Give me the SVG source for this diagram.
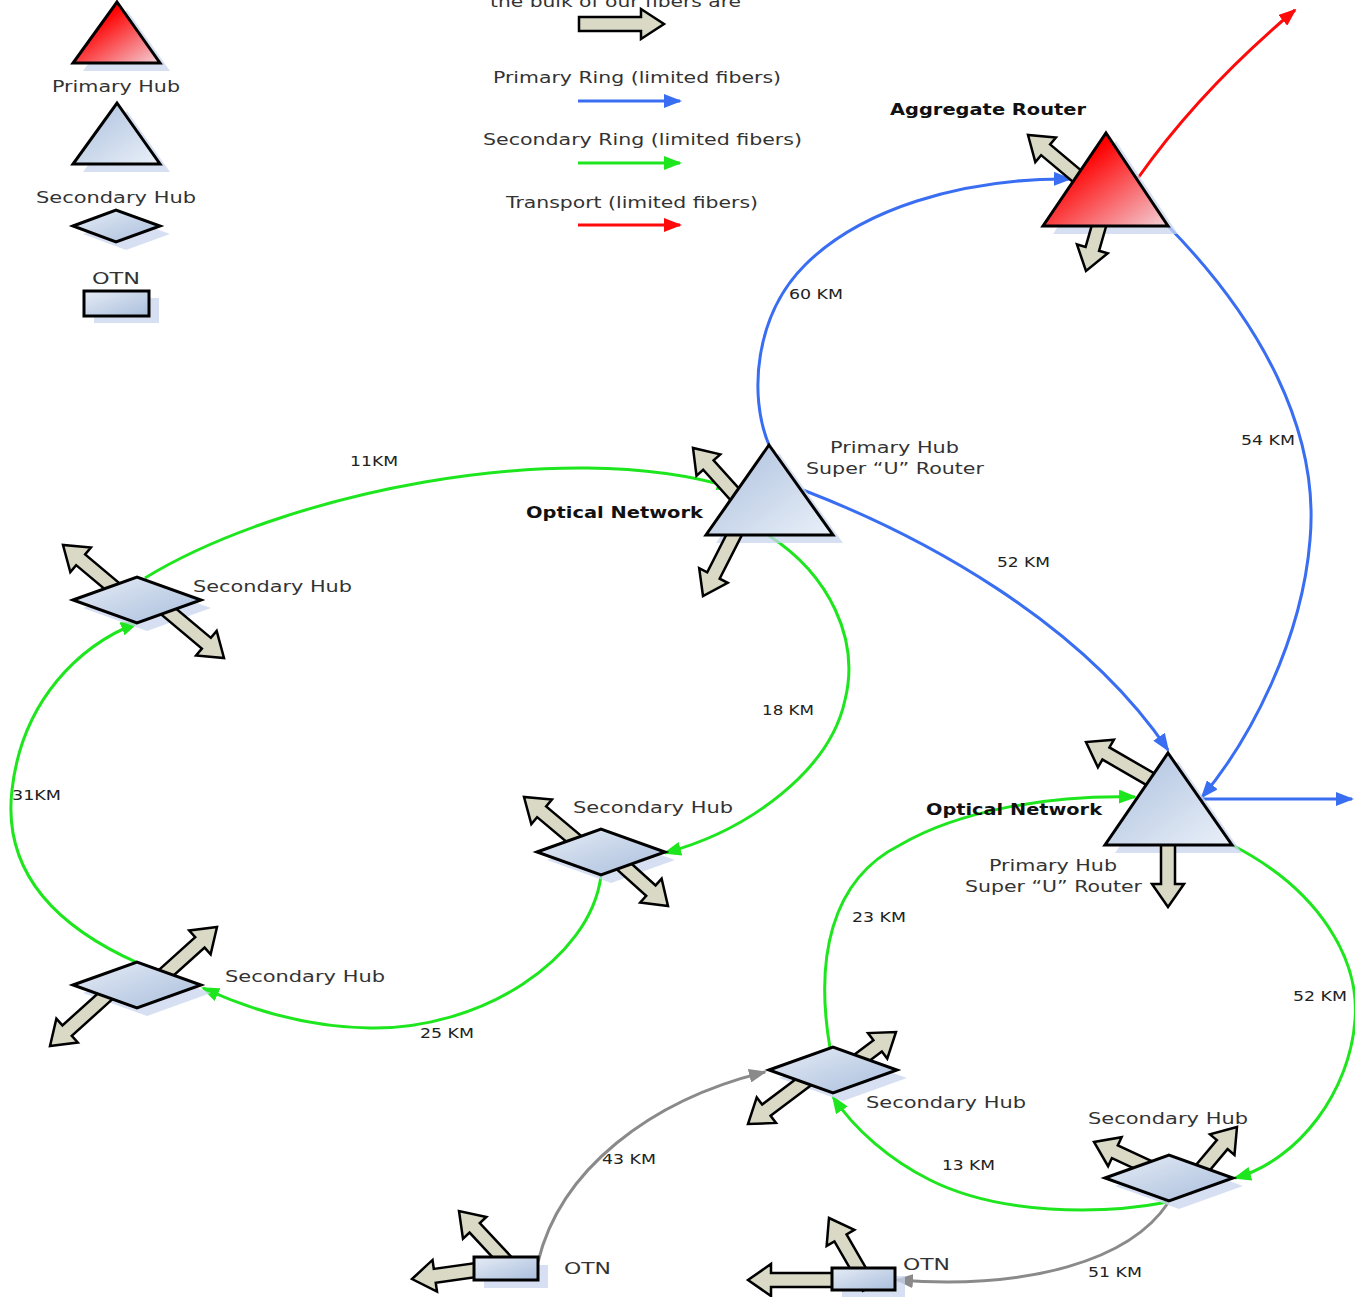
<svg xmlns="http://www.w3.org/2000/svg" xmlns:xlink="http://www.w3.org/1999/xlink" width="1355" height="1297" viewBox="0 0 1355 1297">
<defs>
<style>
.t{font-family:"DejaVu Sans","Liberation Sans",Arial,sans-serif;font-size:16px;fill:#333}
.b{font-family:"DejaVu Sans","Liberation Sans",Arial,sans-serif;font-size:15px;font-weight:bold;fill:#111}
.k{font-family:"DejaVu Sans","Liberation Sans",Arial,sans-serif;font-size:14px;fill:#222}
.shape{stroke:#000;stroke-width:3;stroke-linejoin:miter}
.tri{fill:url(#gBlue)}
.red{fill:url(#gRed)}
.dia{fill:url(#gDia)}
.sh{fill:#c9d6ee;opacity:0.75}
.blk{fill:#d9d9c6;stroke:#000;stroke-width:2.5;stroke-linejoin:miter}
.c{fill:none;stroke-width:3}
.cb{stroke:#3a6ef2;marker-end:url(#mB)}
.cg{stroke:#1ee61e;marker-end:url(#mG)}
.cy{stroke:#8a8a8a;marker-end:url(#mY)}
.cr{stroke:#ff0a0a;marker-end:url(#mR)}
</style>
<linearGradient id="gBlue" x1="0" y1="0" x2="1" y2="1"><stop offset="0" stop-color="#a9bedc"/><stop offset="1" stop-color="#eaf0f9"/></linearGradient>
<linearGradient id="gRed" x1="0" y1="0" x2="1" y2="1"><stop offset="0.3" stop-color="#ff0000"/><stop offset="1" stop-color="#f2d3da"/></linearGradient>
<linearGradient id="gDia" x1="0" y1="0" x2="1" y2="1"><stop offset="0" stop-color="#e6ecf6"/><stop offset="1" stop-color="#a9bedc"/></linearGradient>
<marker id="mB" markerUnits="userSpaceOnUse" markerWidth="18" markerHeight="14" refX="16" refY="7" orient="auto"><path d="M0,0 L18,7 L0,14 Z" fill="#3a6ef2"/></marker>
<marker id="mG" markerUnits="userSpaceOnUse" markerWidth="18" markerHeight="14" refX="16" refY="7" orient="auto"><path d="M0,0 L18,7 L0,14 Z" fill="#1ee61e"/></marker>
<marker id="mY" markerUnits="userSpaceOnUse" markerWidth="18" markerHeight="14" refX="16" refY="7" orient="auto"><path d="M0,0 L18,7 L0,14 Z" fill="#8a8a8a"/></marker>
<marker id="mR" markerUnits="userSpaceOnUse" markerWidth="18" markerHeight="14" refX="16" refY="7" orient="auto"><path d="M0,0 L18,7 L0,14 Z" fill="#ff0a0a"/></marker>
<path id="ba" class="blk" d="M-80,-7 L-23,-7 L-23,-16 L0,0 L-23,16 L-23,7 L-80,7 Z"/>
<path id="bal" class="blk" d="M-100,-7 L-23,-7 L-23,-16 L0,0 L-23,16 L-23,7 L-100,7 Z"/>
</defs>
<rect width="1355" height="1297" fill="#fff"/>

<g id="legend">
<polygon class="sh" points="127,10 170,71 83,71"/>
<polygon class="shape red" points="117,2 160,63 73,63"/>
<text class="t" x="52" y="92" textLength="128" lengthAdjust="spacingAndGlyphs">Primary Hub</text>
<polygon class="sh" points="127,111 170,172 83,172"/>
<polygon class="shape tri" points="117,103 160,164 73,164"/>
<text class="t" x="36" y="203" textLength="160" lengthAdjust="spacingAndGlyphs">Secondary Hub</text>
<polygon class="sh" points="83,234 126,218 170,234 126,250"/>
<polygon class="shape dia" points="73,226 116,210 160,226 116,242"/>
<text class="t" x="92" y="284" textLength="48" lengthAdjust="spacingAndGlyphs">OTN</text>
<rect class="sh" x="94" y="298" width="65" height="25"/>
<rect class="shape dia" x="84" y="291" width="65" height="25"/>
<text class="t" x="490" y="7" textLength="251" lengthAdjust="spacingAndGlyphs">the bulk of our fibers are</text>
<path class="blk" d="M579,17 L641,17 L641,9 L664,24 L641,39 L641,31 L579,31 Z"/>
<text class="t" x="493" y="83" textLength="288" lengthAdjust="spacingAndGlyphs">Primary Ring (limited fibers)</text>
<path class="c cb" d="M578,101 L680,101"/>
<text class="t" x="483" y="145" textLength="319" lengthAdjust="spacingAndGlyphs">Secondary Ring (limited fibers)</text>
<path class="c cg" d="M578,163 L680,163"/>
<text class="t" x="506" y="208" textLength="252" lengthAdjust="spacingAndGlyphs">Transport (limited fibers)</text>
<path class="c cr" d="M578,225 L680,225"/>
</g>

<g id="connectors">
<path class="c cb" d="M769,445 C748,395 755,315 805,265 C860,210 960,178 1070,179"/>
<path class="c cb" d="M1168,226 C1260,320 1320,430 1310,540 C1302,640 1250,740 1202,797"/>
<path class="c cb" d="M803,490 C920,535 1080,620 1168,750"/>
<path class="c cb" d="M1202,799 L1352,799"/>
<path class="c cg" d="M145,578 C280,495 560,435 733,488"/>
<path class="c cg" d="M768,535 C830,575 860,640 845,700 C830,770 750,830 665,853"/>
<path class="c cg" d="M601,876 C590,960 480,1030 370,1028 C300,1027 240,1005 203,988"/>
<path class="c cg" d="M138,963 C30,915 5,850 12,790 C22,700 80,645 137,623"/>
<path class="c cg" d="M830,1048 C815,960 830,880 900,845 C960,810 1050,795 1135,797"/>
<path class="c cg" d="M1232,845 C1320,890 1360,960 1355,1020 C1350,1090 1300,1160 1235,1178"/>
<path class="c cg" d="M1168,1202 C1100,1215 1000,1215 930,1180 C890,1160 855,1130 833,1097"/>
<path class="c cy" d="M538,1262 C560,1170 650,1100 765,1072"/>
<path class="c cy" d="M1168,1203 C1130,1260 1030,1290 897,1280"/>
<path class="c cr" d="M1138,178 Q1200,90 1295,10"/>
<text class="k" x="789" y="299" textLength="54" lengthAdjust="spacingAndGlyphs">60 KM</text>
<text class="k" x="1241" y="445" textLength="54" lengthAdjust="spacingAndGlyphs">54 KM</text>
<text class="k" x="997" y="567" textLength="53" lengthAdjust="spacingAndGlyphs">52 KM</text>
<text class="k" x="350" y="466" textLength="48" lengthAdjust="spacingAndGlyphs">11KM</text>
<text class="k" x="762" y="715" textLength="52" lengthAdjust="spacingAndGlyphs">18 KM</text>
<text class="k" x="420" y="1038" textLength="54" lengthAdjust="spacingAndGlyphs">25 KM</text>
<text class="k" x="12" y="800" textLength="49" lengthAdjust="spacingAndGlyphs">31KM</text>
<text class="k" x="852" y="922" textLength="54" lengthAdjust="spacingAndGlyphs">23 KM</text>
<text class="k" x="1293" y="1001" textLength="54" lengthAdjust="spacingAndGlyphs">52 KM</text>
<text class="k" x="942" y="1170" textLength="53" lengthAdjust="spacingAndGlyphs">13 KM</text>
<text class="k" x="602" y="1164" textLength="54" lengthAdjust="spacingAndGlyphs">43 KM</text>
<text class="k" x="1088" y="1277" textLength="54" lengthAdjust="spacingAndGlyphs">51 KM</text>
</g>

<g id="aggregate-router">
<polygon class="sh" points="1116,141 1178,234 1053,234"/>
<use href="#ba" transform="translate(1028,135) rotate(220)"/>
<use href="#ba" transform="translate(1086,271) rotate(106)"/>
<polygon class="shape red" points="1106,133 1168,226 1043,226"/>
<text class="b" x="890" y="115" textLength="196" lengthAdjust="spacingAndGlyphs">Aggregate Router</text>
</g>

<g id="primary-hub-1">
<polygon class="sh" points="779,453 843,543 716,543"/>
<use href="#ba" transform="translate(693,448) rotate(228)"/>
<use href="#ba" transform="translate(703,596) rotate(117)"/>
<polygon class="shape tri" points="769,445 833,535 706,535"/>
<text class="t" x="830" y="453" textLength="129" lengthAdjust="spacingAndGlyphs">Primary Hub</text>
<text class="t" x="806" y="474" textLength="178" lengthAdjust="spacingAndGlyphs">Super “U” Router</text>
<text class="b" x="526" y="518" textLength="177" lengthAdjust="spacingAndGlyphs">Optical Network</text>
</g>

<g id="primary-hub-2">
<polygon class="sh" points="1178,761 1242,853 1115,853"/>
<use href="#ba" transform="translate(1086,742) rotate(210)"/>
<use href="#ba" transform="translate(1168,907) rotate(90)"/>
<polygon class="shape tri" points="1168,753 1232,845 1105,845"/>
<text class="b" x="926" y="815" textLength="176" lengthAdjust="spacingAndGlyphs">Optical Network</text>
<text class="t" x="989" y="871" textLength="128" lengthAdjust="spacingAndGlyphs">Primary Hub</text>
<text class="t" x="965" y="892" textLength="177" lengthAdjust="spacingAndGlyphs">Super “U” Router</text>
</g>

<g id="secondary-hub-1">
<polygon class="sh" points="83,608 147,585 211,608 147,631"/>
<use href="#ba" transform="translate(63,545) rotate(220)"/>
<use href="#ba" transform="translate(224,658) rotate(40)"/>
<polygon class="shape dia" points="73,600 137,577 201,600 137,623"/>
<text class="t" x="193" y="592" textLength="159" lengthAdjust="spacingAndGlyphs">Secondary Hub</text>
</g>

<g id="secondary-hub-2">
<polygon class="sh" points="547,860 611,837 675,860 611,883"/>
<use href="#ba" transform="translate(524,797) rotate(220)"/>
<use href="#ba" transform="translate(668,906) rotate(42)"/>
<polygon class="shape dia" points="537,852 601,829 665,852 601,875"/>
<text class="t" x="573" y="813" textLength="160" lengthAdjust="spacingAndGlyphs">Secondary Hub</text>
</g>

<g id="secondary-hub-3">
<polygon class="sh" points="83,993 147,970 211,993 147,1016"/>
<use href="#ba" transform="translate(217,927) rotate(318)"/>
<use href="#ba" transform="translate(50,1046) rotate(138)"/>
<polygon class="shape dia" points="73,985 137,962 201,985 137,1008"/>
<text class="t" x="225" y="982" textLength="160" lengthAdjust="spacingAndGlyphs">Secondary Hub</text>
</g>

<g id="secondary-hub-4">
<polygon class="sh" points="779,1078 843,1055 907,1078 843,1101"/>
<use href="#ba" transform="translate(896,1032) rotate(323)"/>
<use href="#ba" transform="translate(748,1124) rotate(143)"/>
<polygon class="shape dia" points="769,1070 833,1047 897,1070 833,1093"/>
<text class="t" x="866" y="1108" textLength="160" lengthAdjust="spacingAndGlyphs">Secondary Hub</text>
</g>

<g id="secondary-hub-5">
<polygon class="sh" points="1115,1186 1179,1163 1243,1186 1179,1209"/>
<use href="#ba" transform="translate(1094,1142) rotate(205)"/>
<use href="#ba" transform="translate(1237,1127) rotate(310)"/>
<polygon class="shape dia" points="1105,1178 1169,1155 1233,1178 1169,1201"/>
<text class="t" x="1088" y="1124" textLength="160" lengthAdjust="spacingAndGlyphs">Secondary Hub</text>
</g>

<g id="otn-1">
<rect class="sh" x="484" y="1265" width="64" height="23"/>
<use href="#ba" transform="translate(459,1211) rotate(227)"/>
<use href="#bal" transform="translate(412,1279) rotate(172)"/>
<rect class="shape dia" x="474" y="1257" width="64" height="23"/>
<text class="t" x="564" y="1274" textLength="47" lengthAdjust="spacingAndGlyphs">OTN</text>
</g>

<g id="otn-2">
<rect class="sh" x="842" y="1276" width="63" height="22"/>
<use href="#ba" transform="translate(829,1218) rotate(240)"/>
<use href="#bal" transform="translate(748,1280) rotate(180)"/>
<rect class="shape dia" x="832" y="1268" width="63" height="22"/>
<text class="t" x="903" y="1270" textLength="47" lengthAdjust="spacingAndGlyphs">OTN</text>
</g>
</svg>
